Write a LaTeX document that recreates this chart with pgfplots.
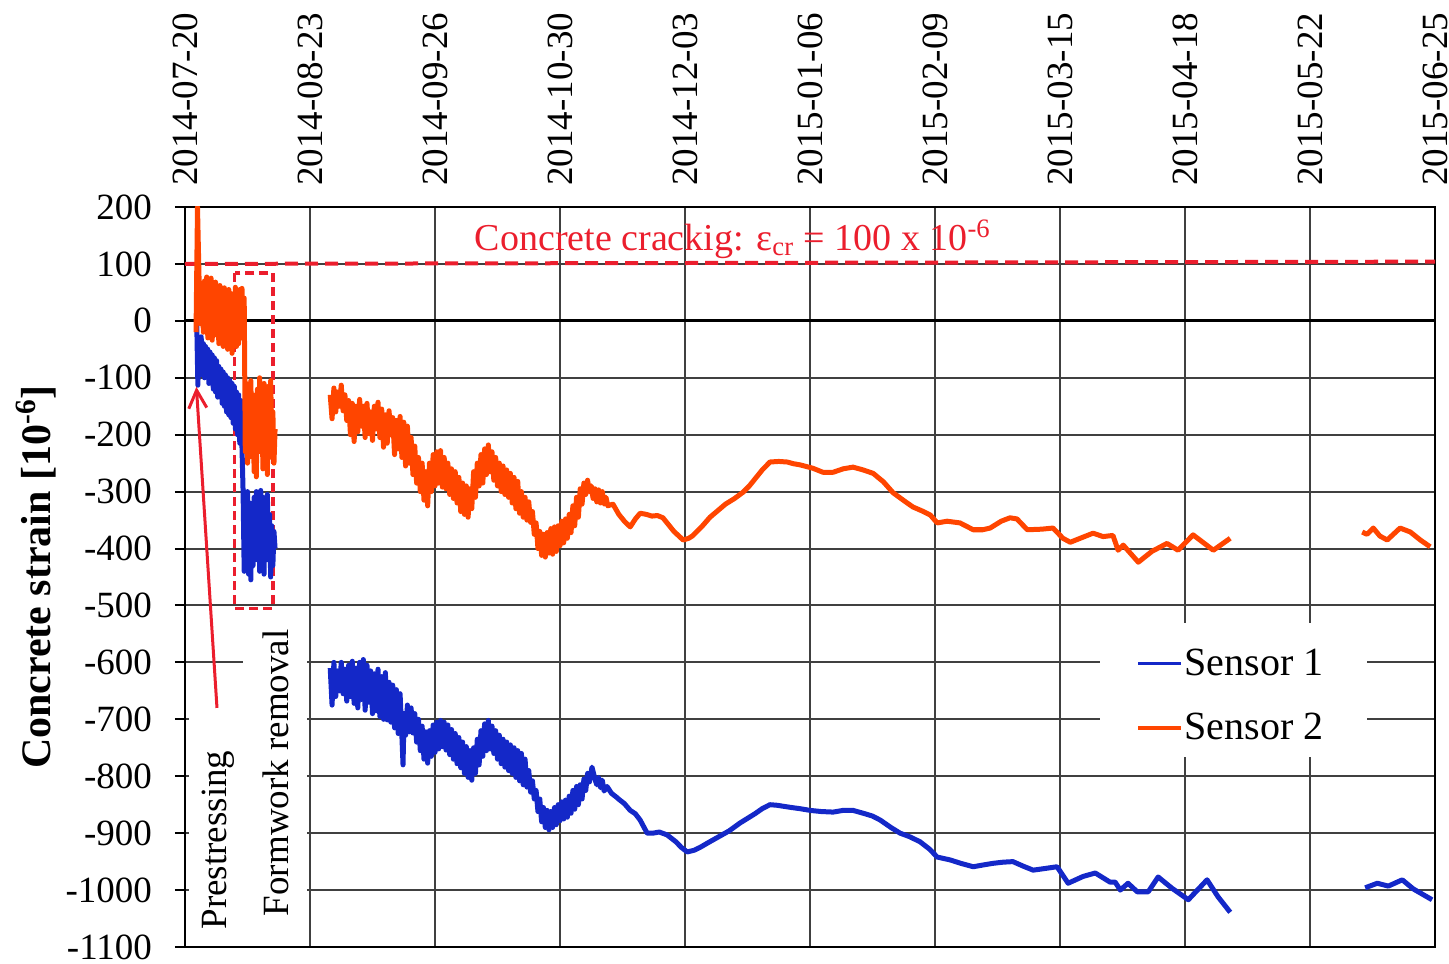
\documentclass[border=0pt]{standalone}
\usepackage{fontspec}
\setmainfont{Liberation Serif}
\usepackage{pgfplots}
\pgfplotsset{compat=1.18}
\usetikzlibrary{arrows.meta}
\definecolor{sone}{RGB}{20,40,200}
\definecolor{stwo}{RGB}{255,69,0}
\definecolor{crack}{RGB}{235,30,45}
\begin{document}
\begin{tikzpicture}
\begin{axis}[
  scale only axis, width=625pt, height=370pt,
  xmin=0, xmax=340, ymin=-1100, ymax=200,
  xtick={0,34,...,340},
  xticklabels={2014-07-20,2014-08-23,2014-09-26,2014-10-30,2014-12-03,2015-01-06,2015-02-09,2015-03-15,2015-04-18,2015-05-22,2015-06-25},
  xticklabel pos=top, xtick pos=top,
  xticklabel style={rotate=90, anchor=west, font=\fontsize{18.5}{20}\selectfont, inner sep=0pt, yshift=0pt, xshift=5.5pt},
  xtick style={draw=none},
  ytick={-1100,-1000,...,200},
  yticklabels={-1100,-1000,-900,-800,-700,-600,-500,-400,-300,-200,-100,0,100,200},
  ytick pos=left, tick align=outside, major tick length=5pt,
  ytick style={black, line width=1pt},
  yticklabel style={font=\fontsize{18.5}{20}\selectfont, xshift=-8pt},
  grid=major, major grid style={black!75, line width=1pt},
  axis line style={black, line width=1.3pt},
  ylabel={\bfseries Concrete strain [10\textsuperscript{-6}]},
  ylabel style={at={(axis description cs:-0.119,0.5)}, anchor=center, font=\fontsize{21}{24}\selectfont},
  unbounded coords=jump,
  legend style={draw=none, fill=none, inner sep=0pt, at={(axis cs:258.7,-572)}, anchor=north west,
    font=\fontsize{20}{24}\selectfont, row sep=15.5pt, nodes={inner sep=1pt}},
  legend cell align=left,
  legend image code/.code={\draw[#1, line width=1.6pt] (0pt,0pt) -- (21.5pt,0pt);},
]
% white areas over grid
\fill[white] (axis cs:15.8,-510) rectangle (axis cs:33.3,-1096);
\fill[white] (axis cs:1,-615) rectangle (axis cs:15.8,-1096);
\fill[white] (axis cs:248.9,-531) rectangle (axis cs:321.5,-766);
% zero line and crack line
\draw[black, line width=1.6pt] (axis cs:0,0) -- (axis cs:340,0);
\draw[crack, line width=2pt, dash pattern=on 6.5pt off 3.5pt] (axis cs:0,100) -- (axis cs:340,104);
\node[crack, font=\fontsize{19}{22}\selectfont] at (axis cs:149,143) {Concrete crackig: ε\textsubscript{cr} = 100 x 10\textsuperscript{-6}};
% formwork box
\draw[crack, line width=1.8pt, dash pattern=on 4.5pt off 2.5pt] (axis cs:13.5,84) rectangle (axis cs:24,-505);

\addplot[sone, line width=2.5pt, line join=round] table {
x y
3.2 -5
3.5 -113
3.8 -30
4.1 -95
4.4 -28
4.7 -80
5.0 -40
5.3 -100
5.6 -45
5.9 -90
6.2 -50
6.5 -110
6.8 -55
7.1 -105
7.4 -60
7.7 -120
8.0 -65
8.3 -125
8.6 -70
8.9 -134
9.2 -80
9.5 -130
9.8 -85
10.1 -145
10.4 -90
10.7 -150
11.0 -95
11.3 -160
11.6 -100
11.9 -165
12.2 -105
12.5 -170
12.8 -110
13.1 -180
13.4 -115
13.7 -190
14.0 -125
14.3 -200
14.6 -130
14.9 -215
15.2 -140
15.5 -222
15.8 -300
16.1 -440
16.4 -310
16.7 -430
17.0 -300
17.3 -445
17.6 -320
17.9 -455
18.2 -340
18.5 -430
18.8 -310
19.1 -400
19.4 -300
19.7 -420
20.0 -305
20.3 -440
20.6 -298
20.9 -410
21.2 -310
21.5 -445
21.8 -330
22.1 -420
22.4 -305
22.7 -400
23.0 -340
23.3 -450
23.6 -360
23.9 -430
24.2 -370
24.5 -400
30 nan
39.5 -610
40.0 -675
40.5 -600
41.0 -660
41.5 -615
42.0 -650
42.5 -600
43.0 -655
43.5 -612
44.0 -668
44.5 -605
45.0 -660
45.5 -598
46.0 -672
46.5 -610
47.0 -680
47.5 -600
48.0 -665
48.5 -595
49.0 -684
49.5 -605
50.0 -670
50.5 -615
51.0 -690
51.5 -620
52.0 -685
52.5 -612
53.0 -695
53.5 -625
54.0 -700
54.5 -618
55.0 -701
55.5 -635
56.0 -705
56.5 -640
57.0 -715
57.5 -648
58.0 -725
58.5 -655
59.0 -730
59.3 -780
59.6 -690
60.0 -728
60.5 -675
61.0 -722
61.5 -680
62.0 -724
62.5 -690
63.0 -740
63.5 -700
64.0 -755
64.5 -712
65.0 -770
65.5 -722
66.0 -777
66.5 -720
67.0 -765
67.5 -710
68.0 -758
68.5 -705
69.0 -752
69.5 -702
70.0 -748
70.5 -705
71.0 -754
71.5 -710
72.0 -762
72.5 -718
73.0 -770
73.5 -725
74.0 -778
74.5 -732
75.0 -785
75.5 -740
76.0 -795
76.5 -748
77.0 -802
77.5 -755
78.0 -807
78.5 -750
79.0 -795
79.5 -735
80.0 -780
80.5 -720
81.0 -765
81.5 -708
82.0 -755
82.5 -702
83.0 -752
83.5 -712
84.0 -760
84.5 -720
85.0 -770
85.5 -728
86.0 -778
86.5 -735
87.0 -784
87.5 -740
88.0 -790
88.5 -745
89.0 -795
89.5 -750
90.0 -802
90.5 -755
91.0 -808
91.5 -760
92.0 -815
92.5 -770
93.0 -819
93.5 -790
94.0 -828
94.5 -808
95.0 -840
95.5 -825
96.0 -862
96.5 -840
97.0 -880
97.5 -855
98.0 -890
98.5 -860
99.0 -894
99.5 -862
100.0 -890
100.5 -855
101.0 -885
101.5 -850
102.0 -878
102.5 -845
103.0 -875
103.5 -842
104.0 -872
104.5 -835
105.0 -865
105.5 -825
106.0 -858
106.5 -818
107.0 -850
107.5 -815
108.0 -840
108.5 -805
109.0 -825
109.5 -795
110.0 -810
110.7 -784
111.5 -805
112.0 -815
112.5 -802
113.0 -820
113.5 -807
114.0 -826
114.8 -818
116.0 -830
117.2 -836
118.3 -842
119.5 -848
121.1 -860
122.5 -866
123.8 -877
125.7 -900
127.3 -900
129.0 -898
131.1 -903
133.5 -915
135.0 -925
136.6 -933
138.5 -930
140.1 -925
142.5 -916
144.7 -908
148.0 -896
151.0 -882
153.0 -874
155.0 -866
157.0 -857
159.1 -850
161.0 -851
163.0 -853
165.0 -855
167.3 -857
170.0 -860
173.0 -862
176.3 -863
179.0 -860
181.7 -860
185.0 -866
187.0 -870
189.1 -877
192.0 -890
194.5 -900
197.0 -906
199.9 -915
202.5 -928
204.6 -942
208.1 -947
211.0 -953
214.4 -959
217.0 -956
219.8 -953
222.5 -951
225.2 -950
228.0 -958
230.7 -965
234.0 -962
237.2 -959
240.2 -988
244.3 -976
247.6 -970
251.6 -986
253.0 -986
254.4 -1000
256.5 -988
259.0 -1003
262.0 -1003
264.7 -977
268.5 -997
272.9 -1017
278.0 -982
281.0 -1012
284.3 -1039
300 nan
321.0 -996
324.3 -988
327.3 -993
331.1 -982
334.1 -998
339.2 -1017
};
\addlegendentry{Sensor 1}

\addplot[stwo, line width=2.5pt, line join=round] table {
x y
3.0 -20
3.4 200
3.8 80
4.2 -5
4.6 60
5.0 -20
5.3 70
5.6 -10
5.9 77
6.2 -30
6.5 65
6.8 -15
7.1 75
7.4 -34
7.7 55
8.0 -5
8.3 68
8.6 -25
8.9 50
9.2 -40
9.5 62
9.8 -20
10.1 45
10.4 -45
10.7 58
11.0 -10
11.3 40
11.6 -50
11.9 55
12.2 -30
12.5 48
12.8 -57
13.1 35
13.4 -20
13.7 59
14.0 -45
14.3 30
14.6 -40
14.9 55
15.2 -30
15.5 57
15.8 -20
16.1 40
16.4 -230
16.7 -110
17.0 -250
17.3 -140
17.6 -239
17.9 -105
18.2 -210
18.5 -130
18.8 -265
19.1 -150
19.4 -274
19.7 -120
20.0 -230
20.3 -100
20.6 -200
20.9 -140
21.2 -260
21.5 -110
21.8 -220
22.1 -150
22.4 -270
22.7 -115
23.0 -240
23.3 -105
23.6 -200
23.9 -160
24.2 -250
24.5 -190
30 nan
39.5 -130
40.0 -172
40.5 -118
41.0 -160
41.5 -125
42.0 -150
42.5 -113
43.0 -158
43.5 -130
44.0 -175
44.5 -140
45.0 -200
45.5 -145
46.0 -212
46.5 -150
47.0 -195
47.5 -138
48.0 -185
48.5 -150
49.0 -205
49.5 -145
50.0 -198
50.5 -160
51.0 -210
51.5 -150
52.0 -190
52.5 -143
53.0 -205
53.5 -155
54.0 -222
54.5 -165
55.0 -215
55.5 -158
56.0 -200
56.5 -170
57.0 -235
57.5 -175
58.0 -225
58.5 -168
59.0 -240
59.5 -178
60.0 -255
60.5 -185
61.0 -250
61.5 -205
62.0 -270
62.5 -220
63.0 -285
63.5 -240
64.0 -300
64.5 -250
65.0 -315
65.5 -265
66.0 -325
66.5 -250
67.0 -300
67.5 -235
68.0 -290
68.5 -230
69.0 -285
69.5 -228
70.0 -292
70.5 -240
71.0 -295
71.5 -250
72.0 -305
72.5 -260
73.0 -312
73.5 -265
74.0 -320
74.5 -275
75.0 -335
75.5 -285
76.0 -340
76.5 -290
77.0 -345
77.5 -295
78.0 -330
78.5 -265
79.0 -310
79.5 -250
80.0 -290
80.5 -235
81.0 -285
81.5 -225
82.0 -270
82.5 -218
83.0 -265
83.5 -230
84.0 -280
84.5 -240
85.0 -290
85.5 -250
86.0 -300
86.5 -255
87.0 -305
87.5 -262
88.0 -310
88.5 -268
89.0 -320
89.5 -275
90.0 -330
90.5 -282
91.0 -338
91.5 -300
92.0 -345
92.5 -310
93.0 -350
93.5 -318
94.0 -354
94.5 -335
95.0 -375
95.5 -355
96.0 -400
96.5 -370
97.0 -412
97.5 -375
98.0 -415
98.5 -372
99.0 -408
99.5 -365
100.0 -410
100.5 -362
101.0 -405
101.5 -360
102.0 -395
102.5 -352
103.0 -390
103.5 -348
104.0 -382
104.5 -340
105.0 -372
105.5 -325
106.0 -360
106.5 -310
107.0 -345
107.5 -295
108.0 -322
108.5 -285
109.0 -305
109.5 -280
110.0 -300
110.5 -290
111.0 -312
111.5 -295
112.0 -318
112.5 -297
113.0 -320
113.5 -300
114.0 -322
114.5 -310
115.0 -325
116.4 -322
118.0 -340
119.5 -352
121.1 -362
122.5 -348
123.8 -338
125.5 -340
127.0 -343
128.5 -342
130.0 -346
131.5 -358
133.0 -370
135.5 -385
137.0 -382
138.0 -378
140.5 -362
142.8 -345
145.0 -333
147.0 -322
149.5 -312
151.8 -301
153.5 -290
155.0 -278
157.0 -262
159.1 -248
161.5 -247
163.8 -248
165.5 -251
167.3 -253
170.8 -259
173.5 -266
176.3 -266
179.0 -260
181.7 -257
184.5 -262
187.2 -268
190.0 -283
192.6 -302
196.0 -318
198.0 -327
200.5 -334
202.7 -341
204.6 -355
207.3 -352
210.8 -355
214.4 -367
217.0 -367
219.0 -364
222.0 -352
224.4 -346
226.3 -348
229.1 -367
233.0 -366
236.1 -364
238.8 -382
240.8 -389
243.5 -382
247.0 -373
249.7 -379
252.4 -377
253.8 -403
255.2 -394
259.3 -424
263.0 -405
267.1 -391
270.1 -403
274.2 -376
279.7 -403
284.3 -382
300 nan
320.2 -371
321.5 -375
323.2 -364
325.0 -378
327.0 -385
330.5 -364
333.3 -371
336.0 -385
338.7 -397
};
\addlegendentry{Sensor 2}

% annotations
\draw[crack, line width=1.5pt, -{Straight Barb[length=9pt,width=9pt]}] (axis cs:8.7,-680) -- (axis cs:3.1,-116);
\node[rotate=90, font=\fontsize{18.5}{20}\selectfont, inner sep=0pt] at (axis cs:9.0,-912) {Prestressing};
\node[rotate=90, font=\fontsize{18.5}{20}\selectfont, inner sep=0pt] at (axis cs:24.8,-794) {Formwork removal};
\end{axis}
\pgfresetboundingbox
\path[use as bounding box] ([xshift=-92.5pt,yshift=-8pt]current axis.south west) rectangle ([xshift=7pt,yshift=103.5pt]current axis.north east);
\end{tikzpicture}
\end{document}
